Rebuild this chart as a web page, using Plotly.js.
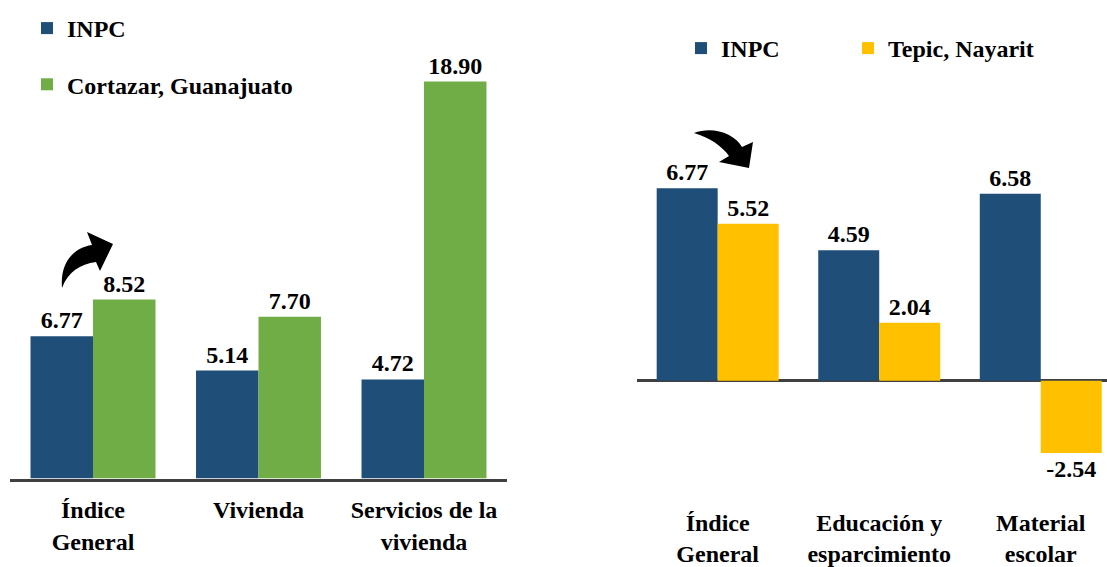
<!DOCTYPE html>
<html>
<head>
<meta charset="utf-8">
<script src="https://cdn.plot.ly/plotly-3.0.1.min.js"></script>
<style>html,body{margin:0;padding:0;background:#fff;}#chart{width:1107px;height:567px;}</style>
</head>
<body>
<div id="chart"></div>
<script>
// ---- Data ----
var leftCategories = ["Índice General", "Vivienda", "Servicios de la vivienda"];
var leftTickLabels = ["Índice<br>General", "Vivienda", "Servicios de la<br>vivienda"];
var leftINPC = [6.77, 5.14, 4.72];
var leftCortazar = [8.52, 7.70, 18.90];

var rightCategories = ["Índice General", "Educación y esparcimiento", "Material escolar"];
var rightTickLabels = ["Índice<br>General", "Educación y<br>esparcimiento", "Material<br>escolar"];
var rightINPC = [6.77, 4.59, 6.58];
var rightTepic = [5.52, 2.04, -2.54];

var seriesNames = ["INPC", "Cortazar, Guanajuato", "Tepic, Nayarit"];

// ---- Styles ----
var FONT = "Liberation Serif";
var BLUE = "#1F4E79", GREEN = "#70AD47", YELLOW = "#FFC000", AXIS = "#404040";
var labelFont = {family: FONT, size: 24, color: "#000000", weight: "bold"};

function barTrace(x, y, name, color, xa, ya, leg, grp) {
  return {
    type: "bar", x: x, y: y, name: name, xaxis: xa, yaxis: ya,
    legend: leg, legendgroup: grp,
    marker: {color: color, line: {width: 0}},
    texttemplate: "%{y:.2f}", textposition: "outside",
    textfont: labelFont, outsidetextfont: labelFont, constraintext: "none", cliponaxis: false,
    hoverinfo: "skip"
  };
}

var data = [
  barTrace(leftCategories, leftINPC, seriesNames[0], BLUE, "x", "y", "legend", "a"),
  barTrace(leftCategories, leftCortazar, seriesNames[1], GREEN, "x", "y", "legend", "b"),
  barTrace(rightCategories, rightINPC, seriesNames[0], BLUE, "x2", "y2", "legend2", "c"),
  barTrace(rightCategories, rightTepic, seriesNames[2], YELLOW, "x2", "y2", "legend3", "d")
];

// curved arrows (decoration), defined in pixel space then mapped to paper
var W = 1107, H = 567;
function px2paper(segs) {
  return segs.map(function (s) {
    if (typeof s === "string") return s;
    return (s[0] / W).toFixed(5) + "," + (1 - s[1] / H).toFixed(5);
  }).join(" ");
}
var arrowLeft = px2paper(["M", [62, 288], "C", [60, 264], [72, 248], [92, 245], "L", [87, 232], "L", [113, 244], "L", [100, 271], "L", [96, 262], "C", [80, 264], [68, 272], [62, 288], "Z"]);
var arrowRight = px2paper(["M", [694, 133], "C", [712, 126], [734, 133], [742, 147], "L", [753, 142], "L", [749, 168], "L", [719, 162], "L", [729, 156], "C", [722, 146], [710, 138], [694, 133], "Z"]);

var legendBase = {
  xanchor: "left", yanchor: "top", font: labelFont,
  bgcolor: "rgba(0,0,0,0)", borderwidth: 0
};
function legendAt(x, y, extra) {
  var o = Object.assign({}, legendBase, {x: x / W, y: 1 - y / H});
  return Object.assign(o, extra || {});
}

var layout = {
  width: W, height: H,
  margin: {l: 0, r: 0, t: 0, b: 0},
  paper_bgcolor: "#fff", plot_bgcolor: "rgba(0,0,0,0)",
  font: {family: FONT, size: 24, color: "#000000", weight: "bold"},
  barmode: "group", bargap: 0.245, bargroupgap: 0,
  xaxis: {
    domain: [0.00926, 0.45777], anchor: "y", type: "category",
    tickvals: leftCategories, ticktext: leftTickLabels,
    showline: true, linecolor: AXIS, linewidth: 3, ticks: "",
    showgrid: false, zeroline: false, tickfont: labelFont, ticklabelstandoff: 8, fixedrange: true
  },
  yaxis: {
    domain: [0.15608, 0.97090], anchor: "x", range: [0, 22],
    showticklabels: false, showgrid: false, zeroline: false, showline: false, fixedrange: true
  },
  xaxis2: {
    domain: [0.57534, 1], anchor: "y2", type: "category", range: [-0.5, 2.41],
    tickvals: rightCategories, ticktext: rightTickLabels,
    showline: false, ticks: "", showgrid: false, zeroline: false,
    tickfont: labelFont, ticklabelstandoff: 13, fixedrange: true
  },
  yaxis2: {
    domain: [0.1305, 0.9300], anchor: "x2", range: [-3.95, 12],
    showticklabels: false, showgrid: false,
    zeroline: true, zerolinecolor: AXIS, zerolinewidth: 3, showline: false, fixedrange: true
  },
  legend: legendAt(27, 6, {orientation: "v", traceorder: "grouped", tracegroupgap: 22}),
  legend2: legendAt(681, 26, {orientation: "h"}),
  legend3: legendAt(848, 26, {orientation: "h"}),
  shapes: [
    {type: "path", xref: "paper", yref: "paper", path: arrowLeft, fillcolor: "#000", line: {width: 0}},
    {type: "path", xref: "paper", yref: "paper", path: arrowRight, fillcolor: "#000", line: {width: 0}}
  ]
};

Plotly.newPlot("chart", data, layout, {displayModeBar: false, staticPlot: true});
</script>
</body>
</html>
